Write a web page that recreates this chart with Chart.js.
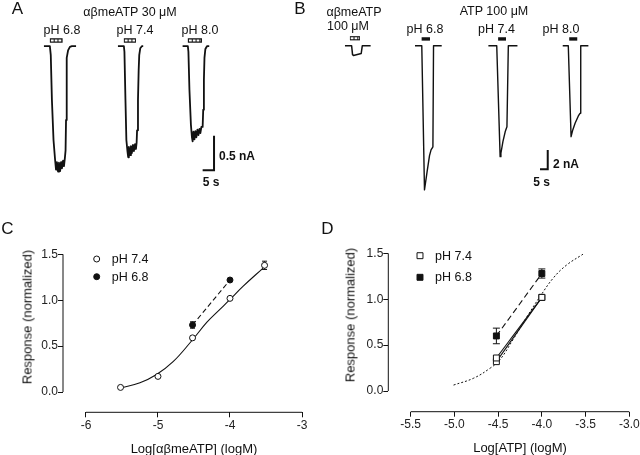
<!DOCTYPE html>
<html>
<head>
<meta charset="utf-8">
<script src="https://cdn.jsdelivr.net/npm/chart.js@4.4.1/dist/chart.umd.min.js"></script>
<style>
  html, body { margin: 0; padding: 0; background: #fff; }
  #fig { position: relative; width: 640px; height: 455px; overflow: hidden;
         font-family: "Liberation Sans", Arial, sans-serif; color: #111; }
  canvas { position: absolute; }
  .lbl { position: absolute; white-space: nowrap; line-height: 1.15; font-size: 12.5px;
         transform: translate(-50%, -50%); }
  .lbl.left { transform: translate(0, -50%); }
  .lbl.rot { transform: translate(-50%, -50%) rotate(-90deg); font-size: 13px; }
  .lbl.panel { font-size: 17px; }
  .lbl.bold { font-weight: bold; font-size: 12px; }
  .lbl.axis { font-size: 13px; }
</style>
</head>
<body>
<div id="fig">
  <canvas id="chartA" width="296" height="200" style="left:0;top:0"></canvas>
  <canvas id="chartB" width="340" height="200" style="left:300px;top:0"></canvas>
  <canvas id="chartC" width="320" height="227" style="left:0;top:228px"></canvas>
  <canvas id="chartD" width="320" height="227" style="left:320px;top:228px"></canvas>
</div>
<script>
// ---------- A: αβmeATP 30 µM, sweeps as [time s, current nA] from sweep start ----------
const startA = [19.3, 51.8, 80.2];            // sweep start on the shared time axis (s)
const traceA68 = [[0,0],[2.6,0],[3.0,-0.13],[3.5,-0.78],[4.2,-1.36],[4.9,-1.65],[5.3,-1.79],[5.7,-1.68],
  [6.2,-1.82],[6.6,-1.69],[7.1,-1.81],[7.5,-1.68],[7.9,-1.77],[8.4,-1.66],[8.8,-1.74],[9.2,-1.62],
  [9.5,-1.51],[9.7,-1.07],[9.9,-0.49],[10.1,-0.17],[10.6,-0.06],[11.4,-0.01],[12.3,0],[14.1,0]];
const traceA74 = [[0,0],[2.6,0],[2.85,-0.08],[3.3,-0.78],[3.7,-1.36],[4.2,-1.53],[4.5,-1.61],[4.8,-1.46],
  [5.3,-1.58],[5.7,-1.45],[6.1,-1.55],[6.6,-1.43],[7.0,-1.52],[7.5,-1.42],[7.9,-1.49],[8.2,-1.40],
  [8.4,-1.22],[8.8,-0.78],[9.1,-0.35],[9.35,-0.13],[9.8,-0.03],[10.5,0],[11.1,0]];
const traceA80 = [[0,0],[2.3,0],[2.55,-0.08],[3.0,-0.63],[3.65,-1.14],[4.1,-1.32],[4.4,-1.38],[4.75,-1.24],
  [5.2,-1.35],[5.6,-1.23],[6.05,-1.32],[6.5,-1.21],[6.95,-1.29],[7.4,-1.20],[7.8,-1.26],[8.25,-1.17],
  [8.8,-1.17],[9.05,-0.92],[9.35,-0.49],[9.6,-0.17],[10.0,-0.04],[10.7,0],[11.7,0]];
const applyA = [[2.6, 8.2], [2.6, 7.9], [2.3, 8.5]];   // drug application (s, from sweep start)
const scaleBarA = [89, -1.8, 5, 0.5];                  // t, i, 5 s, 0.5 nA

// ---------- B: αβmeATP 100 µM and ATP 100 µM ----------
const startB = [29.1, 74.4, 121.9, 170.0];
const traceB0 = [[0,0],[4.3,0],[4.9,-0.92],[5.5,-1.0],[10.5,-0.8],[11.2,0],[16.6,0]];
const traceB68 = [[0,0],[4.4,0],[6.15,-14.95],[7.8,-13.1],[9.4,-11.4],[10.4,-10.8],[11.6,-10.5],[12.0,0],[17.3,0]];
const traceB74 = [[0,0],[5.4,0],[7.6,-11.5],[8.1,-11.15],[9.4,-9.95],[10.9,-8.9],[12.0,-8.4],[12.9,0],[18.8,0]];
const traceB80 = [[0,0],[3.6,0],[5.4,-9.43],[6.5,-8.73],[8.0,-8.04],[10.1,-7.28],[11.2,-7.0],[11.65,0],[16.6,0]];
const applyB = [[3.2, 9.7], [4.3, 9.7], [6.3, 11.4], [4.2, 9.4]];
const scaleBarB = [155.3, -12.8, 5, 2];

// ---------- C: αβmeATP concentration-response ----------
const xC74 = [-5.52, -5.0, -4.52, -4.0, -3.52];
const yC74 = [0.05, 0.17, 0.59, 1.02, 1.38];
const eC74 = [0, 0, 0.02, 0, 0.045];
const xC68 = [-4.52, -4.0];
const yC68 = [0.73, 1.22];
const eC68 = [0.035, 0];
const fitCx = [-5.52, -5.25, -5.02, -4.79, -4.54, -4.32, -4.14, -4.01, -3.82, -3.54];
const fitCy = [0.045, 0.10, 0.19, 0.33, 0.55, 0.76, 0.90, 1.0, 1.15, 1.35];
const xTicksC = [-6, -5, -4, -3];

// ---------- D: ATP concentration-response ----------
const xD = [-4.52, -4.0];
const yD74a = [0.36, 1.02];
const yD74b = [0.32, 1.02];
const yD68 = [0.60, 1.28];
const eD68 = [0.085, 0.05];
const fitDx = [-5.01, -4.78, -4.59, -4.48, -4.33, -4.17, -4.02, -3.87, -3.72, -3.53];
const fitDy = [0.065, 0.14, 0.25, 0.34, 0.56, 0.81, 1.03, 1.23, 1.37, 1.49];
const xTicksD = [-5.5, -5.0, -4.5, -4.0, -3.5, -3.0];

const yTicks = [0, 0.5, 1.0, 1.5];

Chart.defaults.font.family = '"Liberation Sans", Arial, sans-serif';
Chart.defaults.color = '#222';

const INK = '#111';

// --- helpers for the sweep panels ---
function trace(points, start, width) {
  return { data: points.map(([t, i]) => ({ x: start + t, y: i })), showLine: true, pointRadius: 0,
           borderColor: INK, borderWidth: width, borderJoinStyle: 'round', tension: 0, order: 3 };
}
function applyBar(span, start, level, width, open) {
  const pts = [{ x: start + span[0], y: level }, { x: start + span[1], y: level }];
  const sets = [{ data: pts, showLine: true, pointRadius: 0, borderColor: INK, borderWidth: width,
                  borderCapStyle: 'butt', order: 2 }];
  if (open) {
    const inset = 0.08 * (span[1] - span[0]);
    sets.push({ data: [{ x: pts[0].x + inset, y: level }, { x: pts[1].x - inset, y: level }],
                showLine: true, pointRadius: 0, borderColor: '#fff', borderWidth: width - 2.4,
                borderDash: [2.8, 1], borderCapStyle: 'butt', order: 1 });
  }
  return sets;
}
function scaleBar([t, i, dt, di]) {
  return { data: [{ x: t + dt, y: i + di }, { x: t + dt, y: i }, { x: t, y: i }], showLine: true,
           pointRadius: 0, borderColor: INK, borderWidth: 2, borderCapStyle: 'butt',
           borderJoinStyle: 'miter', order: 3 };
}
function sweepChart(id, datasets, xMax, yMin, yMax) {
  return new Chart(document.getElementById(id), {
    type: 'scatter',
    data: { datasets },
    options: {
      responsive: false, animation: false, events: [],
      layout: { padding: 0 },
      plugins: { legend: { display: false }, tooltip: { enabled: false } },
      scales: {
        x: { display: false, min: 0, max: xMax },
        y: { display: false, min: yMin, max: yMax }
      }
    }
  });
}

// --- helpers for the concentration-response panels ---
function pts(xs, ys) { return xs.map((x, k) => ({ x, y: ys[k] })); }
function line(xs, ys, extra) {
  return Object.assign({ data: pts(xs, ys), showLine: true, pointRadius: 0, borderColor: INK,
                         borderWidth: 1.1, order: 2 }, extra);
}
function markers(xs, ys, style, r, fill, label) {
  return { label, data: pts(xs, ys), showLine: false, pointStyle: style, pointRadius: r,
           pointBackgroundColor: fill, pointBorderColor: INK, pointBorderWidth: 1, order: 0 };
}
function errorBars(xs, ys, es, cap) {
  return xs.map((x, k) => es[k] ? {
    data: [{ x, y: ys[k] - es[k] }, { x, y: ys[k] + es[k] }], showLine: true,
    borderColor: INK, borderWidth: 1, pointStyle: 'line', pointRadius: cap,
    pointBorderColor: INK, pointBorderWidth: 1, order: 1
  } : null).filter(Boolean);
}

// axis lines only between the first and last tick, like the original figure
const axisLines = {
  id: 'axisLines',
  afterDraw(chart) {
    const { ctx, chartArea, scales: { x, y } } = chart;
    const xt = x.ticks, yt = y.ticks;
    ctx.save();
    ctx.strokeStyle = INK; ctx.lineWidth = 1;
    ctx.beginPath();
    ctx.moveTo(x.getPixelForValue(xt[0].value), chartArea.bottom);
    ctx.lineTo(x.getPixelForValue(xt[xt.length - 1].value), chartArea.bottom);
    ctx.moveTo(chartArea.left, y.getPixelForValue(yt[0].value));
    ctx.lineTo(chartArea.left, y.getPixelForValue(yt[yt.length - 1].value));
    ctx.stroke();
    ctx.restore();
  }
};

// small legend in the upper-left corner, built from labelled marker datasets
const cornerLegend = {
  id: 'cornerLegend',
  afterDraw(chart, args, opts) {
    const ctx = chart.ctx;
    const items = chart.data.datasets.filter(d => d.label);
    ctx.save();
    ctx.font = '12.5px "Liberation Sans", Arial, sans-serif';
    ctx.fillStyle = INK; ctx.strokeStyle = INK; ctx.lineWidth = 1;
    ctx.textBaseline = 'middle';
    items.forEach((d, k) => {
      const y = opts.y + k * opts.gap, x = opts.x, r = d.pointRadius;
      ctx.beginPath();
      if (d.pointStyle === 'rect') {
        const s = Math.SQRT1_2 * r;
        ctx.rect(x - s, y - s, 2 * s, 2 * s);
      } else {
        ctx.arc(x, y, r, 0, Math.PI * 2);
      }
      ctx.fillStyle = d.pointBackgroundColor; ctx.fill(); ctx.stroke();
      ctx.fillStyle = INK;
      ctx.fillText(d.label, opts.textX, y + 0.5);
    });
    ctx.restore();
  }
};

function doseChart(id, c) {
  return new Chart(document.getElementById(id), {
    type: 'scatter',
    data: { datasets: c.datasets },
    options: {
      responsive: false, animation: false, events: [],
      layout: { padding: c.pad },
      plugins: { legend: { display: false }, tooltip: { enabled: false }, cornerLegend: c.legend },
      scales: {
        x: {
          min: c.xMin, max: c.xMax,
          afterBuildTicks: s => { s.ticks = c.xTicks.map(v => ({ value: v })); },
          afterFit: s => { s.height = c.xHeight; s.paddingLeft = 0; s.paddingRight = 0; },
          border: { display: false },
          grid: { drawOnChartArea: false, drawTicks: true, tickLength: 5, color: INK },
          ticks: { callback: c.xFmt, padding: 1, autoSkip: false, maxRotation: 0,
                   color: '#222', font: { size: 12 } }
        },
        y: {
          min: c.yMin, max: 1.5,
          afterBuildTicks: s => { s.ticks = yTicks.map(v => ({ value: v })); },
          afterFit: s => { s.width = c.yWidth; s.paddingTop = 0; s.paddingBottom = 0; },
          border: { display: false },
          grid: { drawOnChartArea: false, drawTicks: true, tickLength: 5, color: INK },
          ticks: { callback: v => v.toFixed(1), padding: 0, autoSkip: false,
                   color: '#222', font: { size: 12 } }
        }
      }
    },
    plugins: [axisLines, cornerLegend]
  });
}

// ---------- build panels ----------
sweepChart('chartA', [
  trace(traceA68, startA[0], 1.8), trace(traceA74, startA[1], 1.8), trace(traceA80, startA[2], 1.8),
  ...applyA.flatMap((s, k) => applyBar(s, startA[k], 0.083, 4.5, true)),
  scaleBar(scaleBarA)
], 130, -2.23, 0.67);

sweepChart('chartB', [
  trace(traceB0, startB[0], 1.5), trace(traceB68, startB[1], 1.4),
  trace(traceB74, startB[2], 1.4), trace(traceB80, startB[3], 1.4),
  ...applyBar(applyB[0], startB[0], 0.78, 4.2, true),
  ...applyB.slice(1).flatMap((s, k) => applyBar(s, startB[k + 1], 0.71, 3.4, false)),
  scaleBar(scaleBarB)
], 220, -16, 4.75);

doseChart('chartC', {
  datasets: [
    line(fitCx, fitCy, { tension: 0.4 }),
    line(xC68, yC68, { borderDash: [5, 3] }),
    ...errorBars(xC74, yC74, eC74, 2.5),
    ...errorBars(xC68, yC68, eC68, 2.5),
    markers(xC74, yC74, 'circle', 3, '#fff', 'pH 7.4'),
    markers(xC68, yC68, 'circle', 3, INK, 'pH 6.8')
  ],
  xMin: -6.319, xMax: -3, xTicks: xTicksC, xFmt: v => String(v),
  yMin: -0.221, yWidth: 63, xHeight: 42.7,
  pad: { left: 0, right: 18, top: 26.3, bottom: 0 },
  legend: { x: 96.7, y: 31, gap: 17.7, textX: 111.7 }
});

doseChart('chartD', {
  datasets: [
    line(fitDx, fitDy, { tension: 0.4, borderDash: [2, 2], borderWidth: 1 }),
    line(xD, yD74a, {}),
    line(xD, yD74b, {}),
    line(xD, yD68, { borderDash: [6, 3.5] }),
    ...errorBars(xD, yD68, eD68, 3.5),
    markers(xD, yD74a, 'rect', 4.2, '#fff', 'pH 7.4'),
    markers(xD, yD74b, 'rect', 4.2, '#fff'),
    markers(xD, yD68, 'rect', 4.2, INK, 'pH 6.8')
  ],
  xMin: -5.756, xMax: -3, xTicks: xTicksD, xFmt: v => v.toFixed(1),
  yMin: -0.225, yWidth: 68.3, xHeight: 43.3,
  pad: { left: 0, right: 10.7, top: 25.3, bottom: 0 },
  legend: { x: 100, y: 27.7, gap: 21.6, textX: 115 }
});

// ---------- text ----------
const labels = [
  ['A', 17.5, 8.5, 'panel'],
  ['αβmeATP 30 μM', 130, 12],
  ['pH 6.8', 62, 30], ['pH 7.4', 135, 30], ['pH 8.0', 200, 30],
  ['0.5 nA', 219, 157, 'bold left'],
  ['5 s', 211, 183, 'bold'],
  ['B', 300, 8.5, 'panel'],
  ['αβmeATP', 354, 12], ['100 μM', 348, 26],
  ['ATP 100 μM', 494, 11],
  ['pH 6.8', 425, 29], ['pH 7.4', 496.5, 29], ['pH 8.0', 561, 29],
  ['2 nA', 553, 165, 'bold left'],
  ['5 s', 541.5, 183, 'bold'],
  ['C', 7.5, 229, 'panel'], ['D', 327.5, 229, 'panel'],
  ['Response (normalized)', 27.5, 316.7, 'rot'],
  ['Response (normalized)', 351, 315, 'rot'],
  ['Log[αβmeATP] (logM)', 194, 449, 'axis'],
  ['Log[ATP] (logM)', 520, 447.5, 'axis']
];
const fig = document.getElementById('fig');
labels.forEach(([text, x, y, cls]) => {
  const el = document.createElement('div');
  el.className = 'lbl ' + (cls || '');
  el.style.left = x + 'px';
  el.style.top = y + 'px';
  el.textContent = text;
  fig.appendChild(el);
});
</script>
</body>
</html>
